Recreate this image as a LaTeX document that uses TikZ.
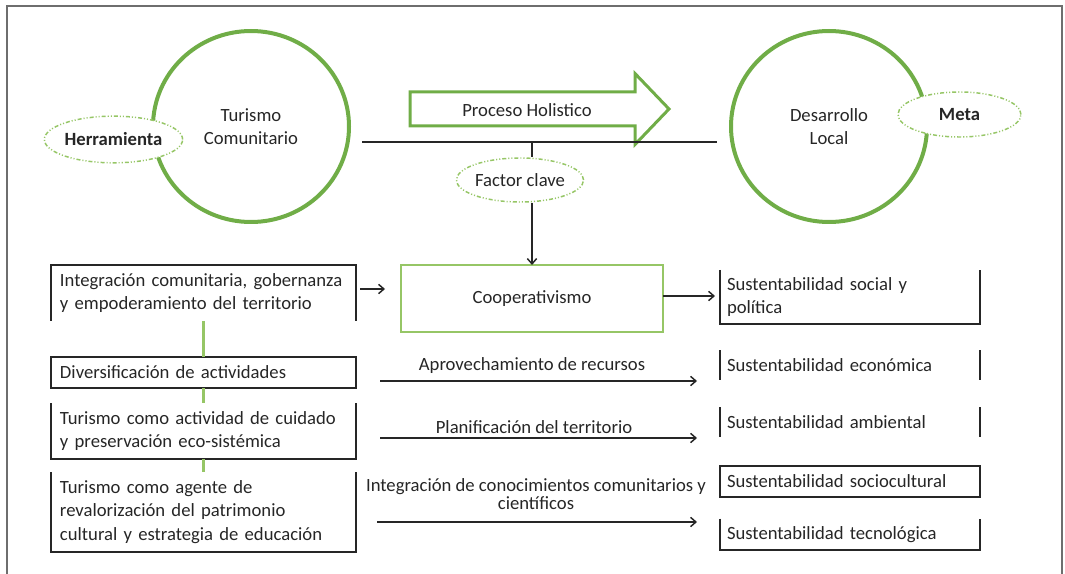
\documentclass[tikz,border=0pt]{standalone}
\usepackage{fontspec}
\setmainfont{Carlito}
\usetikzlibrary{shapes.geometric,arrows.meta}
\definecolor{grn}{RGB}{112,173,71}
\definecolor{lgrn}{RGB}{150,198,102}
\definecolor{ink}{RGB}{38,38,38}
\definecolor{framegray}{RGB}{110,110,110}
\newcommand\myfs{\fontsize{14}{17.5}\selectfont}
\begin{document}
\begin{tikzpicture}[x=0.75pt,y=-0.75pt, font=\myfs, text=ink,
  bigc/.style={ellipse, draw=grn, line width=3pt, minimum width=147pt, minimum height=143.25pt, align=center, inner sep=0pt},
  tag/.style={ellipse, draw=lgrn, fill=white, line width=1.1pt, dash pattern=on 3pt off 1.5pt on 0.8pt off 1.5pt on 0.8pt off 1.5pt, minimum width=92.25pt, minimum height=35pt, inner sep=0pt},
  lbox/.style={rectangle, minimum width=228.75pt, text width=215.25pt, inner xsep=6.75pt, inner ysep=0pt, align=left, outer sep=0pt},
  rbox/.style={rectangle, minimum width=195pt, text width=184.5pt, inner xsep=5.25pt, inner ysep=0pt, align=left, outer sep=0pt},
  ln/.style={draw=ink, line width=1.1pt},
  arr/.style={ln, -{Straight Barb[length=4pt,width=7pt]}},
  gl/.style={draw=lgrn, line width=1.6pt}]
\useasboundingbox (0,0) rectangle (1065,574);
\draw[framegray, line width=1.2pt] (7,574) -- (7,6) -- (1062,6) -- (1062,574);

% big circles
\node[bigc] (tc) at (251,126.5) {Turismo\\Comunitario};
\node[bigc] (dl) at (829,126.5) {Desarrollo\\Local};
\node[tag, font=\myfs\bfseries] (herr) at (113.5,139.5) {Herramienta};
\node[tag, font=\myfs\bfseries, minimum height=33.75pt] (meta) at (959.5,114.5) {Meta};

% process arrow
\draw[grn, line width=2.25pt, line join=miter] (410,92) -- (635,92) -- (635,73.5) -- (669,109) -- (635,144.5) -- (635,126) -- (410,126) -- cycle;
\node (ph) at (527,110) {Proceso Holistico};

% axis line and factor
\coordinate (hl) at (362,142);
\coordinate (hr) at (717,142);
\coordinate (hv) at (532,142);
\draw[ln] (hl) -- (hr);
\node[tag, minimum width=93pt, minimum height=33pt] (fc) at (520,180) {Factor clave};
\draw[ln] (hv) -- (hv |- fc.north);
\node[draw=lgrn, line width=1.1pt, minimum width=196.5pt, minimum height=50.25pt, outer sep=0pt] (coop) at (532,298.5) {Cooperativismo};
\draw[arr] (coop.north |- fc.south) -- (coop.north);

% left boxes
\node[lbox, minimum height=42pt] (L1) at (203.5,293) {Integración comunitaria, gobernanza\\y empoderamiento del territorio};
\node[lbox, minimum height=23.25pt] (L2) at (203.5,372.5) {Diversificación de actividades};
\node[lbox, minimum height=42pt] (L3) at (203.5,431) {Turismo como actividad de cuidado\\y preservación eco-sistémica};
\node[lbox, minimum height=60pt] (L4) at (203.5,512) {Turismo como agente de\\revalorización del patrimonio\\cultural y estrategia de educación};
\draw[ln] (L1.south west) -- (L1.north west) -- (L1.north east) -- (L1.south east);
\draw[ln] (L2.south west) rectangle (L2.north east);
\draw[ln] (L3.north west) -- (L3.south west) -- (L3.south east) -- (L3.north east);
\draw[ln] (L4.north west) -- (L4.south west) -- (L4.south east) -- (L4.north east);
\draw[gl] (L1.south) -- (L2.north);
\draw[gl] (L2.south) -- (L3.north);
\draw[gl] (L3.south) -- (L4.north);

% right boxes
\node[rbox, minimum height=40.5pt] (R1) at (850,297) {Sustentabilidad social y\\política};
\node[rbox, minimum height=22.5pt] (R2) at (850,365) {Sustentabilidad económica};
\node[rbox, minimum height=22.5pt] (R3) at (850,422) {Sustentabilidad ambiental};
\node[rbox, minimum height=23.25pt] (R4) at (850,481.5) {Sustentabilidad sociocultural};
\node[rbox, minimum height=23.6pt] (R5) at (850,534.25) {Sustentabilidad tecnológica};
\draw[ln] (R1.north west) -- (R1.south west) -- (R1.south east) -- (R1.north east);
\draw[ln] (R2.north west) -- (R2.south west);
\draw[ln] (R2.north east) -- (R2.south east);
\draw[ln] (R3.north west) -- (R3.south west);
\draw[ln] (R3.north east) -- (R3.south east);
\draw[ln] (R4.south west) rectangle (R4.north east);
\draw[ln] (R5.north west) -- (R5.south west) -- (R5.south east) -- (R5.north east);

% connectors
\draw[arr] ([shift={(4,-4)}]L1.east) -- ([shift={(-16,-9.5)}]coop.west);
\draw[arr] ([shift={(0,-2.5)}]coop.east) -- ([shift={(-5,-1)}]R1.west);

\coordinate (a1s) at (380,381);
\coordinate (a1e) at (697,381);
\draw[arr] (a1s) -- (a1e);
\node (t1) at (532,366) {Aprovechamiento de recursos};
\coordinate (a2s) at (380,438);
\coordinate (a2e) at (697,438);
\draw[arr] (a2s) -- (a2e);
\node (t2) at (534,427) {Planificación del territorio};
\coordinate (a3s) at (377,522);
\coordinate (a3e) at (697,522);
\draw[arr] (a3s) -- (a3e);
\node[align=center, font=\fontsize{14}{13.7}\selectfont] (t3) at (536,494) {Integración de conocimientos comunitarios y\\científicos};
\end{tikzpicture}
\end{document}
